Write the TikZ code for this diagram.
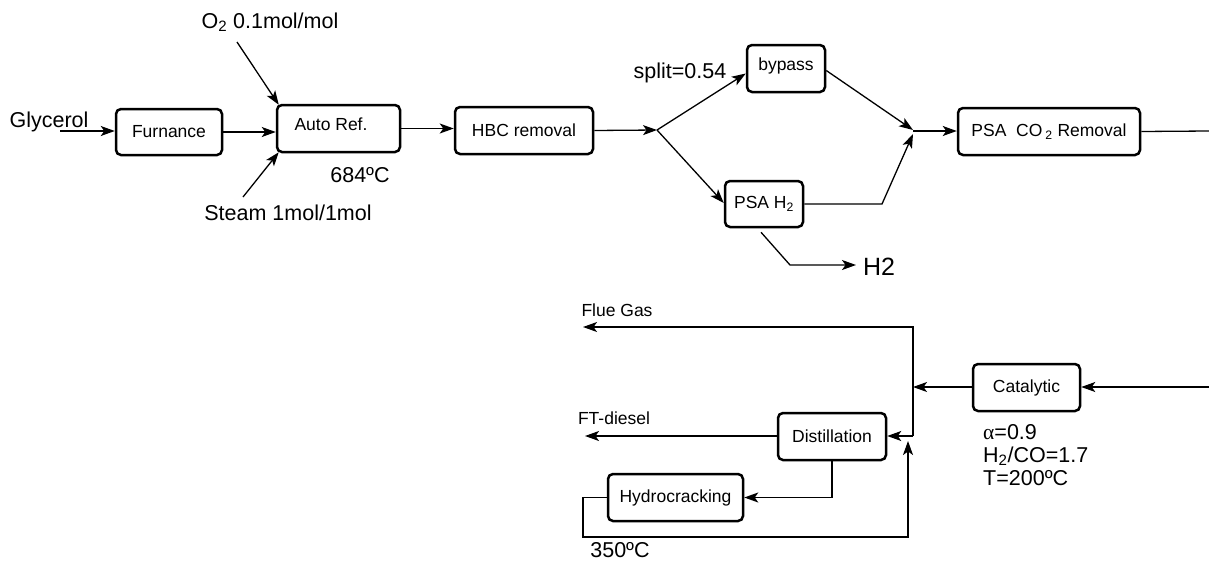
\documentclass[tikz,border=0pt]{standalone}
\usepackage{fontspec}
\setmainfont{Liberation Sans}
\newfontfamily\serifgr{Liberation Serif}
\usetikzlibrary{arrows.meta}
\begin{document}
\begin{tikzpicture}[x=1pt,y=-1pt,
 box/.style={draw,line width=2.5pt,rounded corners=5pt,inner sep=0pt,font=\fontsize{17.5}{21}\selectfont},
 arr/.style={line width=1.3pt,-{Stealth[length=14pt,width=10pt,inset=3.5pt]}},
 ln/.style={line width=1.3pt},
 blbl/.style={font=\fontsize{21.5}{24}\selectfont,inner sep=0pt},
 slbl/.style={font=\fontsize{17.5}{21}\selectfont,inner sep=0pt}]
\useasboundingbox (0,0) rectangle (1209,562);

% boxes
\node[box,minimum width=106pt,minimum height=46pt] (furn) at (169,132) {Furnance};
\node[box,minimum width=123pt,minimum height=47pt] (ar) at (338.5,128.5) {};
\node[slbl] (art) at (331,124) {Auto Ref.};
\node[box,minimum width=138pt,minimum height=47pt] (hbc) at (524,130.5) {HBC removal};
\node[box,minimum width=78pt,minimum height=47pt] (bp) at (786,68.5) {};
\node[slbl] (bpt) at (786,66) {bypass};
\node[box,minimum width=78pt,minimum height=46pt] (ph) at (764,204) {PSA H\textsubscript{2}};
\node[box,minimum width=182pt,minimum height=47pt] (pco) at (1049,131.5) {PSA\ \ CO\,\textsubscript{2} Removal};
\node[box,minimum width=107pt,minimum height=47pt] (cat) at (1026.5,387.5) {Catalytic};
\node[box,minimum width=108pt,minimum height=47pt] (dist) at (832,436.5) {Distillation};
\node[box,minimum width=135pt,minimum height=47pt] (hc) at (675.5,497.5) {Hydrocracking};

% labels
\node[blbl] (gly) at (49,122) {Glycerol};
\node[blbl] (o2) at (270,22) {O\textsubscript{2} 0.1mol/mol};
\node[blbl] (st) at (288,213) {Steam 1mol/1mol};
\node[blbl] (t684) at (360,175) {684ºC};
\node[blbl] (spl) at (680,73) {split=0.54};
\node[font=\fontsize{25}{28}\selectfont,inner sep=0pt] (h2) at (879,267) {H2};
\node[slbl] (flue) at (617,310) {Flue Gas};
\node[slbl] (ftd) at (614,418) {FT-diesel};
\node[blbl] (t350) at (620,550.5) {350ºC};
\node[blbl,align=left,anchor=north west,font=\fontsize{21.5}{23}\selectfont] (cond) at (983,424) {{\serifgr α}=0.9\\H\textsubscript{2}/CO=1.7\\T=200ºC};

% coordinates
\coordinate (gin) at (60,131);
\coordinate (o2s) at (237,42);
\coordinate (sts) at (243,197);
\coordinate (spt) at (657,130);
\coordinate (pk) at (882,204);
\coordinate (mg) at (913,131);
\coordinate (ex) at (1209,131);
\coordinate (en) at (1209,387);
\coordinate (vj) at (913,387);
\coordinate (fc) at (913,327);
\coordinate (fe) at (583,327);
\coordinate (bc) at (913,436);
\coordinate (fd) at (585,436);
\coordinate (r1) at (583,537);
\coordinate (r2) at (908,537);
\coordinate (r3) at (908,441);
\coordinate (hk) at (790,265);
\coordinate (he) at (856,265);

% connectors
\draw[arr] (gin) -- (furn.west |- gin);
\draw[arr] (furn.east) -- (ar.west |- furn.east);
\draw[arr] (o2s) -- ([xshift=3pt,yshift=-1pt]ar.north west);
\draw[arr] (sts) -- ([xshift=3pt,yshift=1pt]ar.south west);
\draw[arr] (ar.east) -- (hbc.west |- ar.east);
\draw[arr] (hbc.east) -- (spt);
\draw[arr] (spt) -- ([yshift=-5pt]bp.west);
\draw[arr] (spt) -- ([yshift=1pt]ph.west);
\draw[arr] ([yshift=-2pt]bp.east) -- ([yshift=1pt]mg);
\draw[arr] (ph.east) -- (pk) -- ([yshift=-3pt]mg);
\draw[arr] (mg) -- (pco.west |- mg);
\draw[ln] (pco.east) -- (ex);
\draw[arr] ([xshift=-3pt,yshift=-4pt]ph.south) -- (hk) -- (he);
\draw[arr] (en) -- (cat.east |- en);
\draw[arr] (cat.west |- vj) -- (vj);
\draw[arr] (bc) -- (fc) -- (fe);
\draw[arr] (bc) -- (dist.east |- bc);
\draw[arr] (dist.west |- fd) -- (fd);
\draw[arr] (dist.south) |- (hc.east);
\draw[arr] (hc.west) -| (r1) -- (r2) -- (r3);
\end{tikzpicture}
\end{document}
